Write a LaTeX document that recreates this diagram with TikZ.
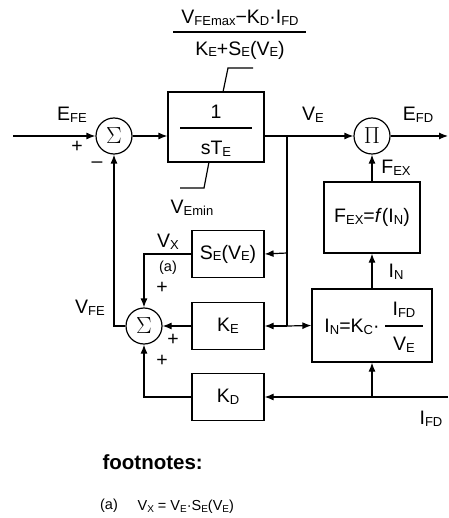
\documentclass[tikz,border=0pt]{standalone}
\usepackage{fontspec}
\setmainfont{Liberation Sans}
\usetikzlibrary{arrows.meta}
\newcommand{\mainf}{\fontsize{19.5}{22}\selectfont}
\newcommand{\smallf}{\fontsize{14.5}{17}\selectfont}
\newcommand{\sbs}[1]{\raisebox{-0.09em}{\fontsize{13}{14}\selectfont #1}}
\newcommand{\sbss}[1]{\raisebox{-0.09em}{\fontsize{10}{11}\selectfont #1}}
\newcommand{\bigsym}[1]{\scalebox{1.35}{$#1$}}
\tikzset{
  every node/.style={font=\mainf, inner sep=0pt},
  box/.style={draw, line width=1.2pt, minimum width=72pt, minimum height=47pt},
  sumc/.style={draw, circle, minimum size=36pt, line width=1.2pt, font=\fontsize{18}{20}\selectfont},
  >={Latex[length=9pt,width=7pt]}
}
\begin{document}
\begin{tikzpicture}[x=1pt,y=-1pt,line width=1.2pt]
\useasboundingbox (0,0) rectangle (448,518);
% main elements
\node[sumc] (s1) at (114,136) {\bigsym{\Sigma}};
\node[box, minimum width=96pt, minimum height=70pt] (te) at (216,127) {};
\node (one) at (216,112) {1};
\node (ste) at (216,149) {sT\sbs{E}};
\draw (180,128) -- (252,128);
\node[sumc] (pi) at (372,136) {\bigsym{\Pi}};
\node[box, minimum width=96pt, minimum height=71pt] (fex) at (372,217.5) {F\sbs{EX}=\textit{f}(I\sbs{N})};
\node[box] (se) at (228,254) {S\sbs{E}(V\sbs{E})};
\node[box] (ke) at (228,326) {K\sbs{E}};
\node[box] (kd) at (228,397) {K\sbs{D}};
\node[sumc] (s2) at (144,326) {\bigsym{\Sigma}};
\node[box, minimum width=120pt, minimum height=73pt] (inb) at (372,325.5) {};
\node (inl) at (352,327) {I\sbs{N}=K\sbs{C}·};
\node (ifdn) at (404,310) {I\sbs{FD}};
\node (ven) at (404,345) {V\sbs{E}};
\draw (385,326) -- (423,326);
% coordinates
\coordinate (in0) at (13,136);
\coordinate (out) at (448,136);
\coordinate (j1) at (287,136);
\coordinate (j2) at (287,253);
\coordinate (j3) at (287,326);
\coordinate (j4) at (372,397);
\coordinate (ifdR) at (448,397);
% connectors
\draw[->] (in0) -- (s1);
\draw[->] (s1) -- (te.west |- s1);
\draw (te.east |- j1) -- (j1) -- (j3);
\draw[->] (j1) -- (pi);
\draw[->] (pi) -- (out);
\draw[->] (fex.north) -- (pi.south);
\draw[->] (inb.north) -- (fex.south);
\draw[->] (j2) -- (se.east);
\draw[->] (j3) -- (ke.east);
\draw[->] (j3) -- (inb.west);
\draw[->] (se.west) -| (s2.north);
\draw[->] (ke.west) -- (s2.east);
\draw[->] (kd.west) -| (s2.south);
\draw[->] (s2.west) -| (s1.south);
\draw[->] (ifdR) -- (kd.east);
\draw[->] (j4) -- (inb.south);
% limits
\draw (253,68) -- (228,68) -- (223,92);
\draw (209,162) -- (204,188) -- (180,188);
\node (vmaxn) at (240,18) {V\sbs{FEmax}−K\sbs{D}·I\sbs{FD}};
\draw (173,32) -- (306,32);
\node (vmaxd) at (240,50) {K\sbs{E}+S\sbs{E}(V\sbs{E})};
\node (vmin) at (192,208) {V\sbs{Emin}};
% labels
\node (lefe) at (72,115) {E\sbs{FE}};
\node (lp1) at (77,147) {+};
\node (lm1) at (97,165) {–};
\node (lve) at (313,115) {V\sbs{E}};
\node (lefd) at (418,115) {E\sbs{FD}};
\node (lfex) at (396,168) {F\sbs{EX}};
\node (lvx) at (168,242) {V\sbs{X}};
\node[font=\smallf] (la) at (168,268) {(a)};
\node (lp2) at (162,288) {+};
\node (lvfe) at (90,308) {V\sbs{FE}};
\node (lp3) at (173,340) {+};
\node (lp4) at (162,361) {+};
\node (lin) at (396,272) {I\sbs{N}};
\node (lifd) at (431,419) {I\sbs{FD}};
% footnotes
\node[anchor=west, font=\fontsize{20.5}{24}\selectfont\bfseries] (fn) at (102,462) {footnotes:};
\node[font=\smallf] (fa) at (109,506) {(a)};
\node[anchor=west, font=\smallf] (ff) at (137,507) {V\sbss{X} = V\sbss{E}·S\sbss{E}(V\sbss{E})};
\end{tikzpicture}
\end{document}
